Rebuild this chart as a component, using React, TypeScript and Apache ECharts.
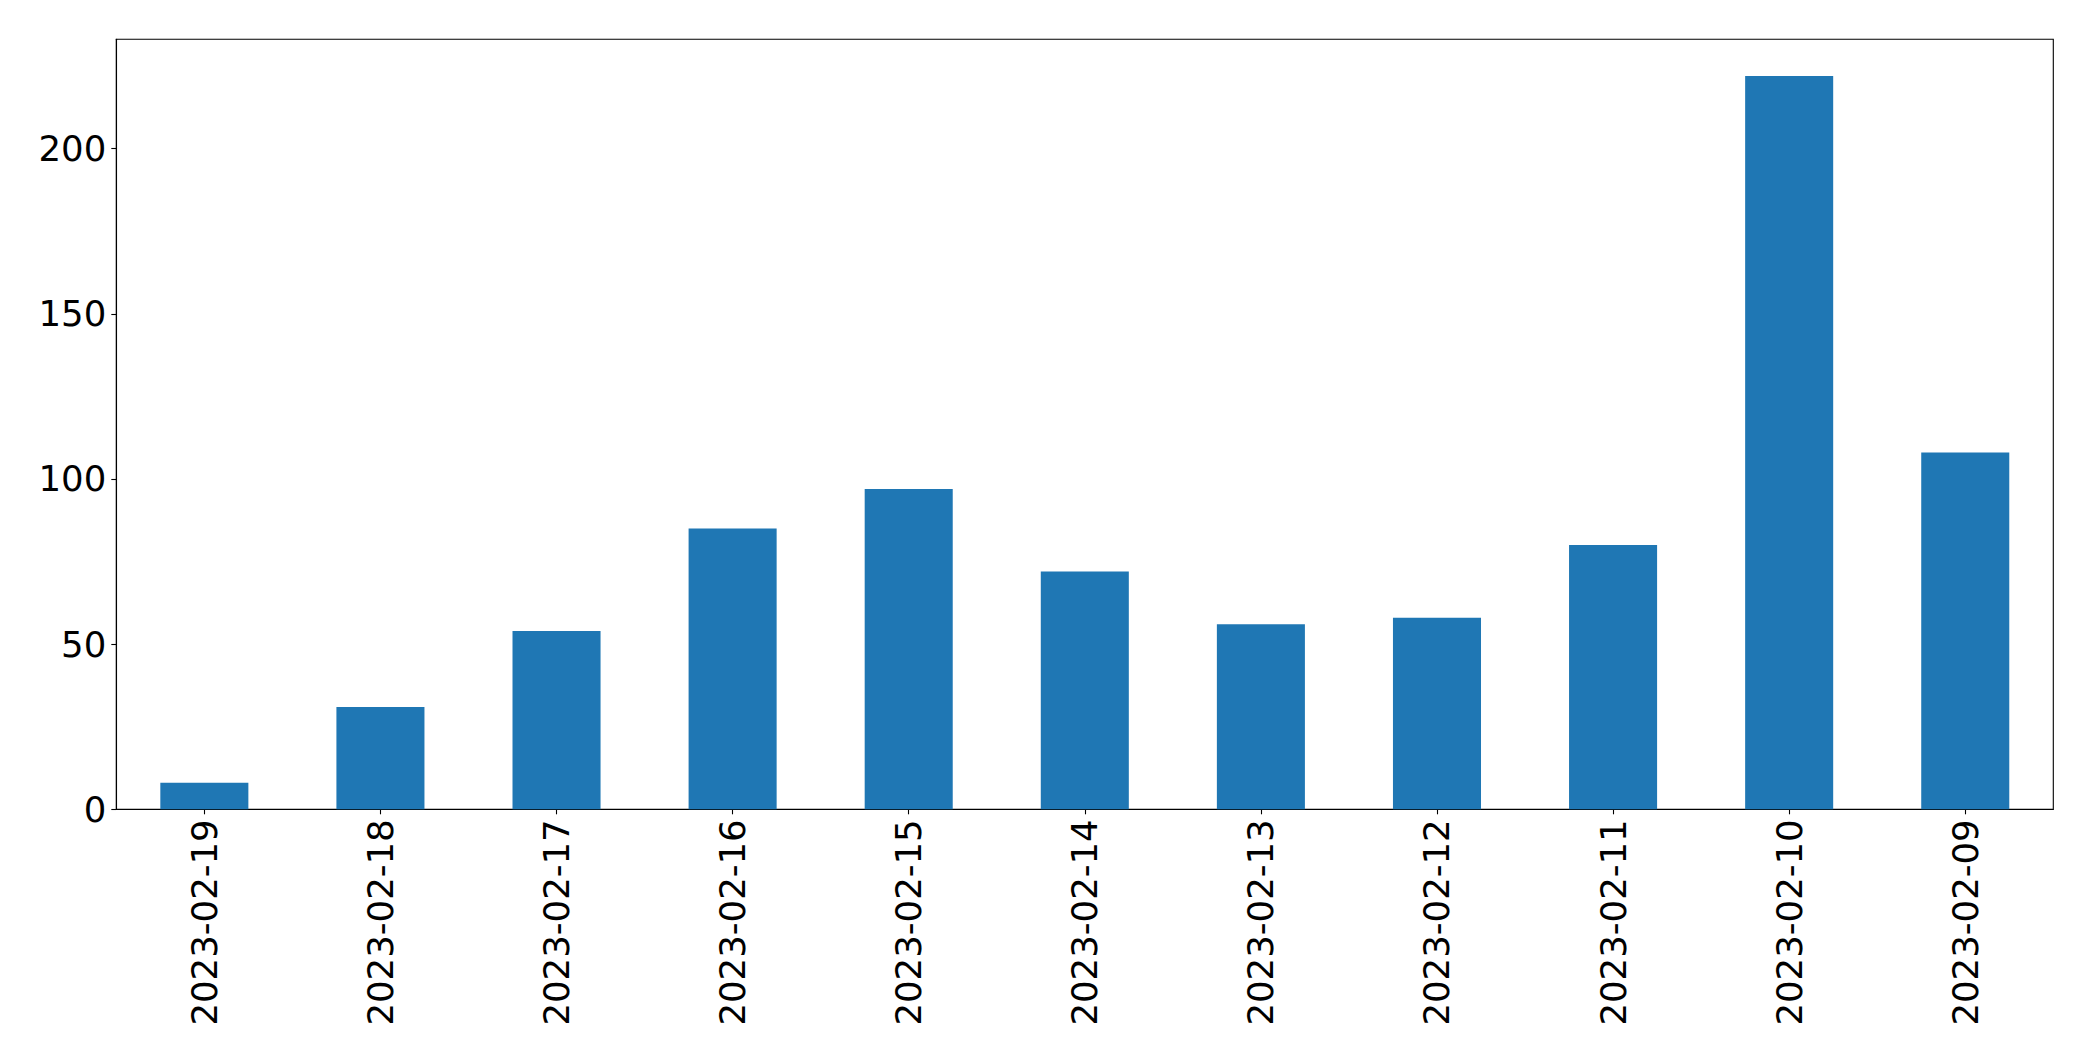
import React, { useEffect, useRef } from "react";
import * as echarts from "echarts";

const categories = [
  "2023-02-19",
  "2023-02-18",
  "2023-02-17",
  "2023-02-16",
  "2023-02-15",
  "2023-02-14",
  "2023-02-13",
  "2023-02-12",
  "2023-02-11",
  "2023-02-10",
  "2023-02-09",
];
const values = [8, 31, 54, 85, 97, 72, 56, 58, 80, 222, 108];
const yTicks = [0, 50, 100, 150, 200];

export default function App() {
  const ref = useRef<HTMLDivElement>(null);
  useEffect(() => {
    if (!ref.current) return;
    const chart = echarts.init(ref.current, null, { renderer: "svg" });
    const yMax = Math.max(...values) * 1.05;
    const font = "DejaVu Sans";
    chart.setOption({
      animation: false,
      backgroundColor: "#ffffff",
      grid: {
        left: 116.3,
        top: 39.3,
        right: 39.7,
        bottom: 251.7,
        show: true,
        borderColor: "#000000",
        borderWidth: 1.1,
        backgroundColor: "transparent",
      },
      xAxis: {
        type: "category",
        data: categories,
        boundaryGap: true,
        axisLine: { show: true, lineStyle: { color: "#000000", width: 1.1 } },
        axisTick: {
          show: true,
          alignWithLabel: true,
          length: 5,
          lineStyle: { color: "#000000", width: 1.1 },
        },
        axisLabel: {
          rotate: 90,
          interval: 0,
          margin: 10,
          color: "#000000",
          fontSize: 35.5,
          fontFamily: font,
        },
        splitLine: { show: false },
      },
      yAxis: {
        type: "value",
        min: 0,
        max: yMax,
        interval: 50,
        axisLine: { show: true, lineStyle: { color: "#000000", width: 1.1 } },
        axisTick: {
          show: true,
          length: 5,
          customValues: yTicks,
          lineStyle: { color: "#000000", width: 1.1 },
        },
        axisLabel: {
          margin: 10,
          color: "#000000",
          fontSize: 35.5,
          fontFamily: font,
          customValues: yTicks,
        },
        splitLine: { show: false },
      },
      series: [
        {
          type: "bar",
          data: values,
          barWidth: "50%",
          itemStyle: { color: "#1f77b4", borderWidth: 0 },
        },
      ],
    });
    return () => chart.dispose();
  }, []);
  return (
    <div
      ref={ref}
      style={{ position: "absolute", left: 0, top: 0, width: 2093, height: 1061 }}
    />
  );
}
